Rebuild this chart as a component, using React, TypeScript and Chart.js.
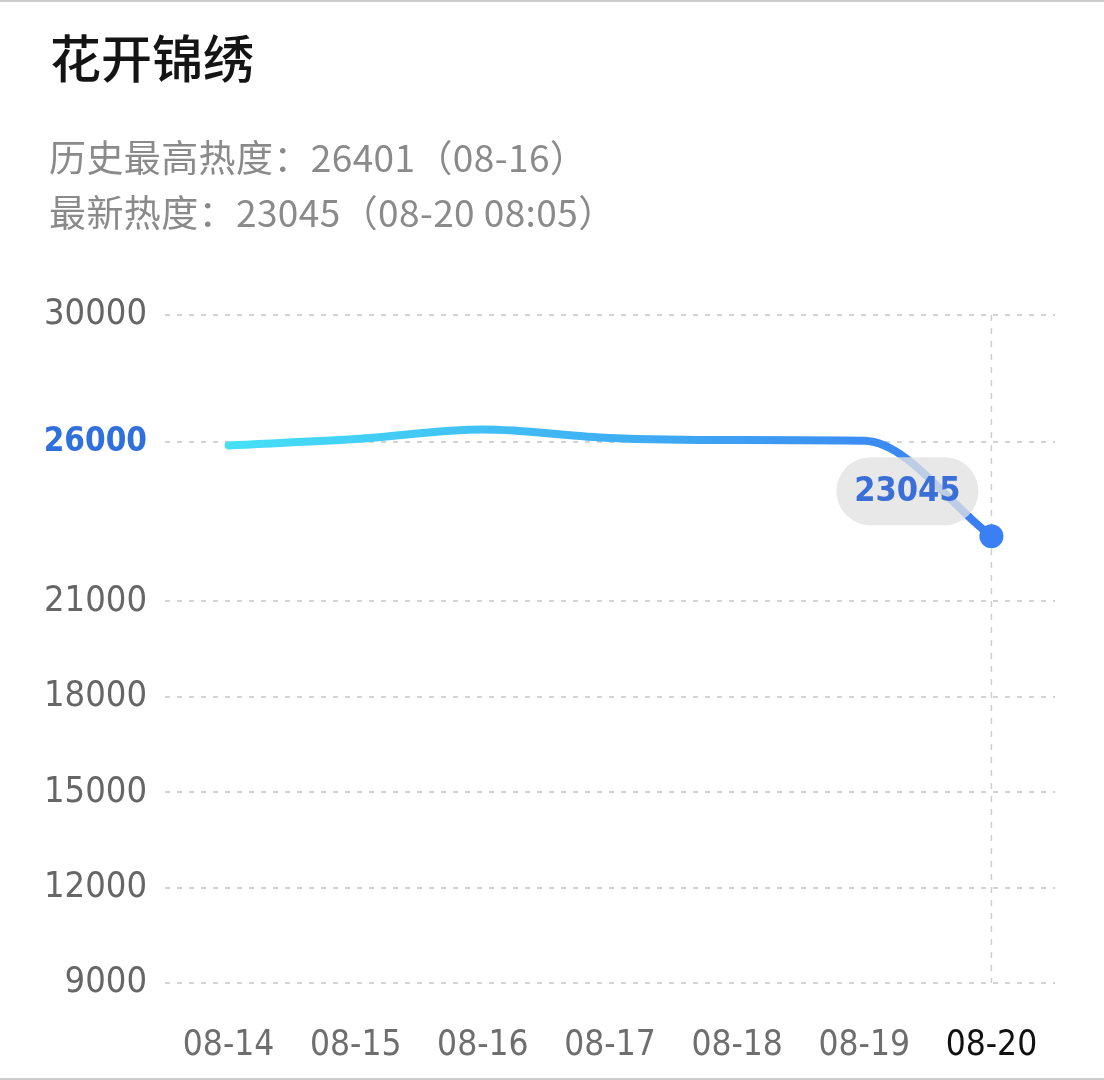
import React, { useEffect, useRef } from "react";
import { Chart, registerables } from "chart.js";

Chart.register(...registerables);

const TITLE = "花开锦绣";
const SUBTITLE_PEAK = "历史最高热度：26401（08-16）";
const SUBTITLE_LATEST = "最新热度：23045（08-20 08:05）";

const CATEGORIES = ["08-14", "08-15", "08-16", "08-17", "08-18", "08-19", "08-20"];
const HEAT = [25900, 26100, 26401, 26135, 26070, 26045, 23045];
const Y_TICKS = [9000, 12000, 15000, 18000, 21000, 26000, 30000];
const HIGHLIGHT_TICK = 26000;
const LATEST_LABEL = "23045";

const NUM_FONT = '"DejaVu Sans Condensed", "DejaVu Sans", sans-serif';
const CJK_FONT = '"Noto Sans CJK SC", "Noto Sans", sans-serif';

const W = 1104;
const H = 1080;

export default function App() {
  const ref = useRef<HTMLCanvasElement | null>(null);

  useEffect(() => {
    const canvas = ref.current;
    if (!canvas) return;
    const lastIdx = HEAT.length - 1;

    const overlay = {
      id: "overlay",
      beforeDatasetsDraw(chart: any) {
        const { ctx, chartArea, scales } = chart;
        const x = scales.x.getPixelForValue(lastIdx);
        ctx.save();
        ctx.strokeStyle = "#cfcfcf";
        ctx.lineWidth = 1.5;
        ctx.setLineDash([6, 7]);
        ctx.beginPath();
        ctx.moveTo(x, chartArea.top);
        ctx.lineTo(x, chartArea.bottom);
        ctx.stroke();
        ctx.restore();
      },
      afterDatasetsDraw(chart: any) {
        const { ctx } = chart;
        const meta = chart.getDatasetMeta(0);
        const pt = meta.data[lastIdx];
        const cx = pt.x - 84;
        const cy = pt.y - 45;
        const bw = 142;
        const bh = 68;
        const r = bh / 2;
        ctx.save();
        ctx.fillStyle = "rgba(226,226,226,0.78)";
        ctx.beginPath();
        ctx.moveTo(cx - bw / 2 + r, cy - bh / 2);
        ctx.lineTo(cx + bw / 2 - r, cy - bh / 2);
        ctx.arc(cx + bw / 2 - r, cy, r, -Math.PI / 2, Math.PI / 2);
        ctx.lineTo(cx - bw / 2 + r, cy + bh / 2);
        ctx.arc(cx - bw / 2 + r, cy, r, Math.PI / 2, (3 * Math.PI) / 2);
        ctx.closePath();
        ctx.fill();
        ctx.fillStyle = "#3a6fd8";
        ctx.font = `bold 34px ${NUM_FONT}`;
        ctx.textAlign = "center";
        ctx.textBaseline = "middle";
        ctx.fillText(LATEST_LABEL, cx, cy + 1);
        ctx.restore();
      },
    };

    const chart = new Chart(canvas, {
      type: "line",
      data: {
        labels: CATEGORIES,
        datasets: [
          {
            data: HEAT,
            borderWidth: 8,
            borderCapStyle: "round",
            borderJoinStyle: "round",
            cubicInterpolationMode: "monotone",
            borderColor: (c: any) => {
              const ch = c.chart;
              if (!ch.chartArea || !ch.scales.x) return "#3fa6f2";
              const x0 = ch.scales.x.getPixelForValue(0);
              const x1 = ch.scales.x.getPixelForValue(lastIdx);
              const g = ch.ctx.createLinearGradient(x0, 0, x1, 0);
              g.addColorStop(0, "#45e0f6");
              g.addColorStop(0.5, "#3fb0f3");
              g.addColorStop(1, "#3a7cf1");
              return g;
            },
            pointRadius: (c: any) => (c.dataIndex === lastIdx ? 12 : 0),
            pointHoverRadius: (c: any) => (c.dataIndex === lastIdx ? 12 : 0),
            pointBackgroundColor: "#3b7ff5",
            pointBorderWidth: 0,
            fill: false,
            clip: false as any,
          },
        ],
      },
      options: {
        animation: false,
        responsive: false,
        devicePixelRatio: 1,
        events: [],
        layout: { padding: { top: 315, left: 0, right: 49, bottom: 0 } },
        plugins: {
          legend: { display: false },
          tooltip: { enabled: false },
          title: { display: false },
        },
        scales: {
          x: {
            offset: true,
            grid: { display: false, drawTicks: false },
            border: { display: false },
            ticks: {
              padding: 42,
              autoSkip: false,
              maxRotation: 0,
              font: { family: NUM_FONT, size: 35 },
              color: (c: any) => (c.index === lastIdx ? "#111111" : "#6e6e6e"),
            },
            afterFit: (s: any) => {
              s.height = 97;
            },
          },
          y: {
            min: 9000,
            max: 30000,
            afterBuildTicks: (s: any) => {
              s.ticks = Y_TICKS.map((v) => ({ value: v }));
            },
            afterFit: (s: any) => {
              s.width = 165;
            },
            grid: { color: "#d3d3d3", lineWidth: 2, drawTicks: false },
            border: { display: false, dash: [5, 7] },
            ticks: {
              padding: 18,
              font: (c: any) =>
                c.tick && c.tick.value === HIGHLIGHT_TICK
                  ? { family: NUM_FONT, size: 33, weight: "bold" }
                  : { family: NUM_FONT, size: 36 },
              color: (c: any) =>
                c.tick && c.tick.value === HIGHLIGHT_TICK ? "#2f6fde" : "#666666",
              callback: (v: any) => String(v),
            },
          },
        },
      },
      plugins: [overlay],
    });

    return () => chart.destroy();
  }, []);

  return (
    <div
      style={{
        position: "fixed",
        left: 0,
        top: 0,
        width: W,
        height: H,
        background: "#ffffff",
        overflow: "hidden",
      }}
    >
      <canvas
        ref={ref}
        width={W}
        height={H}
        style={{ position: "absolute", left: 0, top: 0, width: W, height: H }}
      />
      <div
        style={{
          position: "absolute",
          left: 0,
          top: 0,
          width: W,
          height: 2,
          background: "#cdcdcd",
        }}
      />
      <div
        style={{
          position: "absolute",
          left: 0,
          bottom: 0,
          width: W,
          height: 2,
          background: "#cdcdcd",
        }}
      />
      <div
        style={{
          position: "absolute",
          left: 50,
          top: 31,
          fontFamily: CJK_FONT,
          fontSize: 51,
          lineHeight: "51px",
          fontWeight: 500,
          color: "#141414",
          whiteSpace: "nowrap",
        }}
      >
        {TITLE}
      </div>
      <div
        style={{
          position: "absolute",
          left: 49,
          top: 138,
          fontFamily: CJK_FONT,
          fontSize: 37,
          lineHeight: "37px",
          letterSpacing: "0.4px",
          color: "#8a8a8a",
          whiteSpace: "nowrap",
        }}
      >
        {SUBTITLE_PEAK}
      </div>
      <div
        style={{
          position: "absolute",
          left: 49,
          top: 193,
          fontFamily: CJK_FONT,
          fontSize: 37,
          lineHeight: "37px",
          letterSpacing: "0.4px",
          color: "#8a8a8a",
          whiteSpace: "nowrap",
        }}
      >
        {SUBTITLE_LATEST}
      </div>
    </div>
  );
}
